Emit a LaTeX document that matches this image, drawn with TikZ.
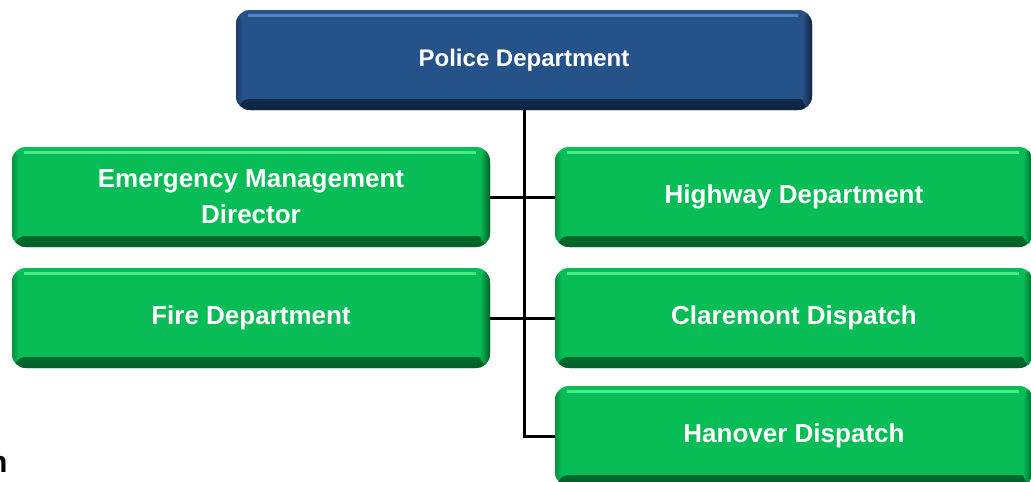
\documentclass[tikz,border=0pt]{standalone}
\usepackage{fontspec}
\setmainfont{Liberation Sans}
\usetikzlibrary{positioning}

\definecolor{grnmid}{RGB}{8,188,86}
\definecolor{grndark}{RGB}{0,96,40}
\definecolor{grnlight}{RGB}{72,234,142}
\definecolor{bluemid}{RGB}{38,82,138}
\definecolor{bluedark}{RGB}{16,36,66}
\definecolor{bluelight}{RGB}{82,128,192}

\begin{document}
\begin{tikzpicture}[x=1pt,y=-1pt,line width=3pt,
    bevel/.style n args={3}{rounded corners=14pt,inner sep=0pt,outer sep=0pt,
      fill=#1,text=white,align=center,
      path picture={
        \shade[top color=#1,bottom color=#2]
          ([yshift=11pt]path picture bounding box.south west) rectangle (path picture bounding box.south east);
        \shade[left color=#1,right color=#2]
          ([xshift=-10pt]path picture bounding box.north east) rectangle (path picture bounding box.south east);
        \shade[left color=#2!45!#1,right color=#1]
          (path picture bounding box.north west) rectangle ([xshift=7pt]path picture bounding box.south west);
        \draw[#3,line width=3pt]
          ([xshift=12pt,yshift=-5pt]path picture bounding box.north west) -- ([xshift=-14pt,yshift=-5pt]path picture bounding box.north east);
      }},
    greenbox/.style={bevel={grnmid}{grndark}{grnlight},minimum width=478pt,minimum height=100pt,
      font=\bfseries\fontsize{26}{36}\selectfont},
    bluebox/.style={bevel={bluemid}{bluedark}{bluelight},minimum width=576pt,minimum height=100pt,
      font=\bfseries\fontsize{24}{36}\selectfont}]
  \useasboundingbox (0,0) rectangle (1031,482);

  \node[bluebox] (police) at (524,60) {Police Department};
  \node[greenbox] (emd) at (251,197) {Emergency Management\\Director};
  \node[greenbox] (fire) [below=21pt of emd] {Fire Department};
  \node[greenbox] (highway) [right=65pt of emd] {Highway Department};
  \node[greenbox] (claremont) [below=21pt of highway] {Claremont Dispatch};
  \node[greenbox] (hanover) [below=18pt of claremont] {Hanover Dispatch};

  \node[anchor=base east,inner sep=0pt,font=\bfseries\fontsize{30}{36}\selectfont] (note) at (9,472) {n};

  % trunk and branches
  \draw (police.south) -- (police.south |- hanover.west) -- (hanover.west);
  \draw (emd) -- (highway);
  \draw (fire) -- (claremont);
\end{tikzpicture}
\end{document}
